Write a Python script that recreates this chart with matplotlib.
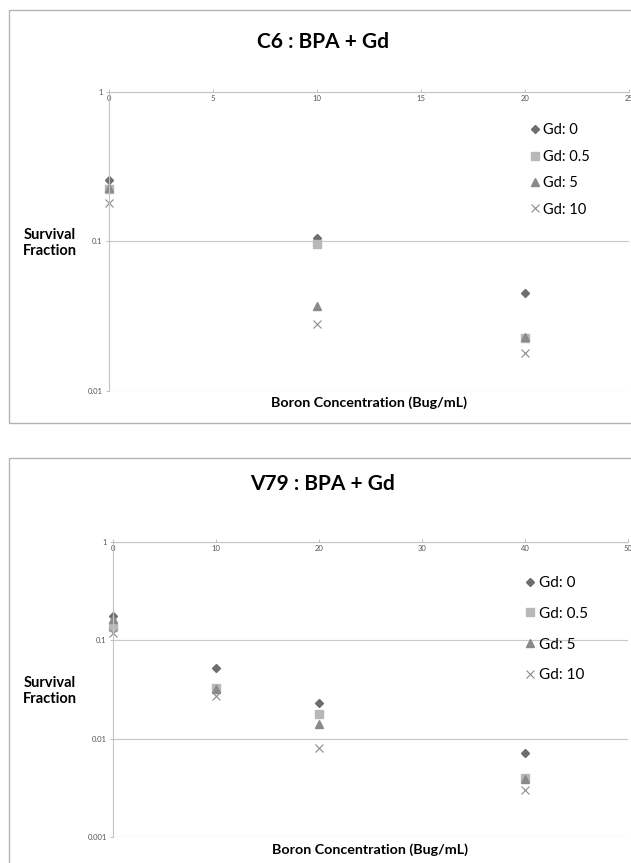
import numpy as np
import matplotlib.pyplot as plt
from matplotlib.patches import Rectangle

plt.rcParams['font.family'] = ['Lato', 'DejaVu Sans']

W, H = 631, 863

# data
series_labels = ['Gd: 0', 'Gd: 0.5', 'Gd: 5', 'Gd: 10']

c6_boron = [0, 10, 20]
c6_gd0 = [0.258, 0.105, 0.045]
c6_gd05 = [0.224, 0.096, 0.0226]
c6_gd5 = [0.228, 0.037, 0.023]
c6_gd10 = [0.181, 0.028, 0.018]
c6_xticks = [0, 5, 10, 15, 20, 25]
c6_yticks = [0.01, 0.1, 1]
c6_ylabels = ['0.01', '0.1', '1']

v79_boron = [0, 10, 20, 40]
v79_gd0 = [0.178, 0.052, 0.023, 0.0071]
v79_gd05 = [0.137, 0.033, 0.018, 0.0040]
v79_gd5 = [0.165, 0.032, 0.014, 0.0039]
v79_gd10 = [0.119, 0.027, 0.008, 0.0030]
v79_xticks = [0, 10, 20, 30, 40, 50]
v79_yticks = [0.001, 0.01, 0.1, 1]
v79_ylabels = ['0.001', '0.01', '0.1', '1']

styles = [
    dict(marker='D', color='#6e6e6e', ms=4.5),
    dict(marker='s', color='#b8b8b8', ms=5.5),
    dict(marker='^', color='#8a8a8a', ms=6),
    dict(marker='x', color='#8c8c8c', ms=6, mew=0.8),
]


def px(x, y):
	return x / W, 1 - y / H


def panel(fig, box, area, title, title_xy, xvals, ys, xticks, yticks, ylabels,
          ylab_y, xlab_y, leg_anchor, leg_fs, leg_space):
	# outer chart frame
	bx0, by0, bx1, by1 = box
	fig.patches.append(Rectangle(px(bx0, by1), (bx1 - bx0) / W, (by1 - by0) / H,
		transform=fig.transFigure, fill=False, ec='#b4b4b4', lw=1.0))
	l, t, r, b = area
	ax = fig.add_axes([l / W, 1 - b / H, (r - l) / W, (b - t) / H])
	for ser, st, lab in zip(ys, styles, series_labels):
		ax.plot(xvals, ser, ls='none', label=lab, clip_on=False, **st)
	ax.set_yscale('log')
	ax.set_ylim(yticks[0], yticks[-1])
	ax.set_xlim(xticks[0], xticks[-1])
	ax.set_yticks(yticks)
	ax.set_yticklabels(ylabels)
	ax.minorticks_off()
	ax.set_xticks(xticks)
	ax.set_xticklabels([str(v) for v in xticks])
	ax.tick_params(axis='x', top=True, bottom=False, labeltop=True, labelbottom=False,
		direction='out', length=2.5, width=0.7, color='#bdbdbd', pad=-10,
		labelsize=5.5, labelcolor='#555555')
	ax.tick_params(axis='y', direction='out', length=2.5, width=0.7, color='#bdbdbd',
		pad=2, labelsize=5.5, labelcolor='#555555')
	for s in ['right', 'bottom']:
		ax.spines[s].set_visible(False)
	for s in ['top', 'left']:
		ax.spines[s].set_color('#c4c4c4')
		ax.spines[s].set_linewidth(0.8)
	ax.grid(axis='y', which='major', color='#c8c8c8', lw=0.8)
	ax.set_axisbelow(True)
	fig.text(*px(*title_xy), title, ha='center', va='center', fontsize=15,
		fontweight='bold')
	fig.text(*px(50, ylab_y), 'Survival\nFraction', ha='center', va='center',
		fontsize=10.5, fontweight='bold', linespacing=1.1)
	fig.text(*px((l + r) / 2, xlab_y), 'Boron Concentration (Bug/mL)', ha='center',
		va='center', fontsize=10.3, fontweight='bold')
	ax.legend(loc='upper left', bbox_to_anchor=leg_anchor, frameon=False,
		fontsize=leg_fs, handlelength=0.6, handletextpad=0.3, borderpad=0,
		labelspacing=leg_space, borderaxespad=0)
	return ax


fig = plt.figure(figsize=(W / 100, H / 100), dpi=100)

panel(fig, (9, 10, 660, 423), (109, 92, 629, 391), 'C6 : BPA + Gd', (323, 42),
	c6_boron, [c6_gd0, c6_gd05, c6_gd5, c6_gd10], c6_xticks, c6_yticks, c6_ylabels,
	243, 403, (0.81, 0.895), 10.5, 0.85)

panel(fig, (9, 458, 660, 900), (113, 542, 628, 837), 'V79 : BPA + Gd', (322, 484),
	v79_boron, [v79_gd0, v79_gd05, v79_gd5, v79_gd10], v79_xticks, v79_yticks,
	v79_ylabels, 691, 850, (0.8, 0.885), 11, 1.1)

fig.savefig('out.png', dpi=100)
